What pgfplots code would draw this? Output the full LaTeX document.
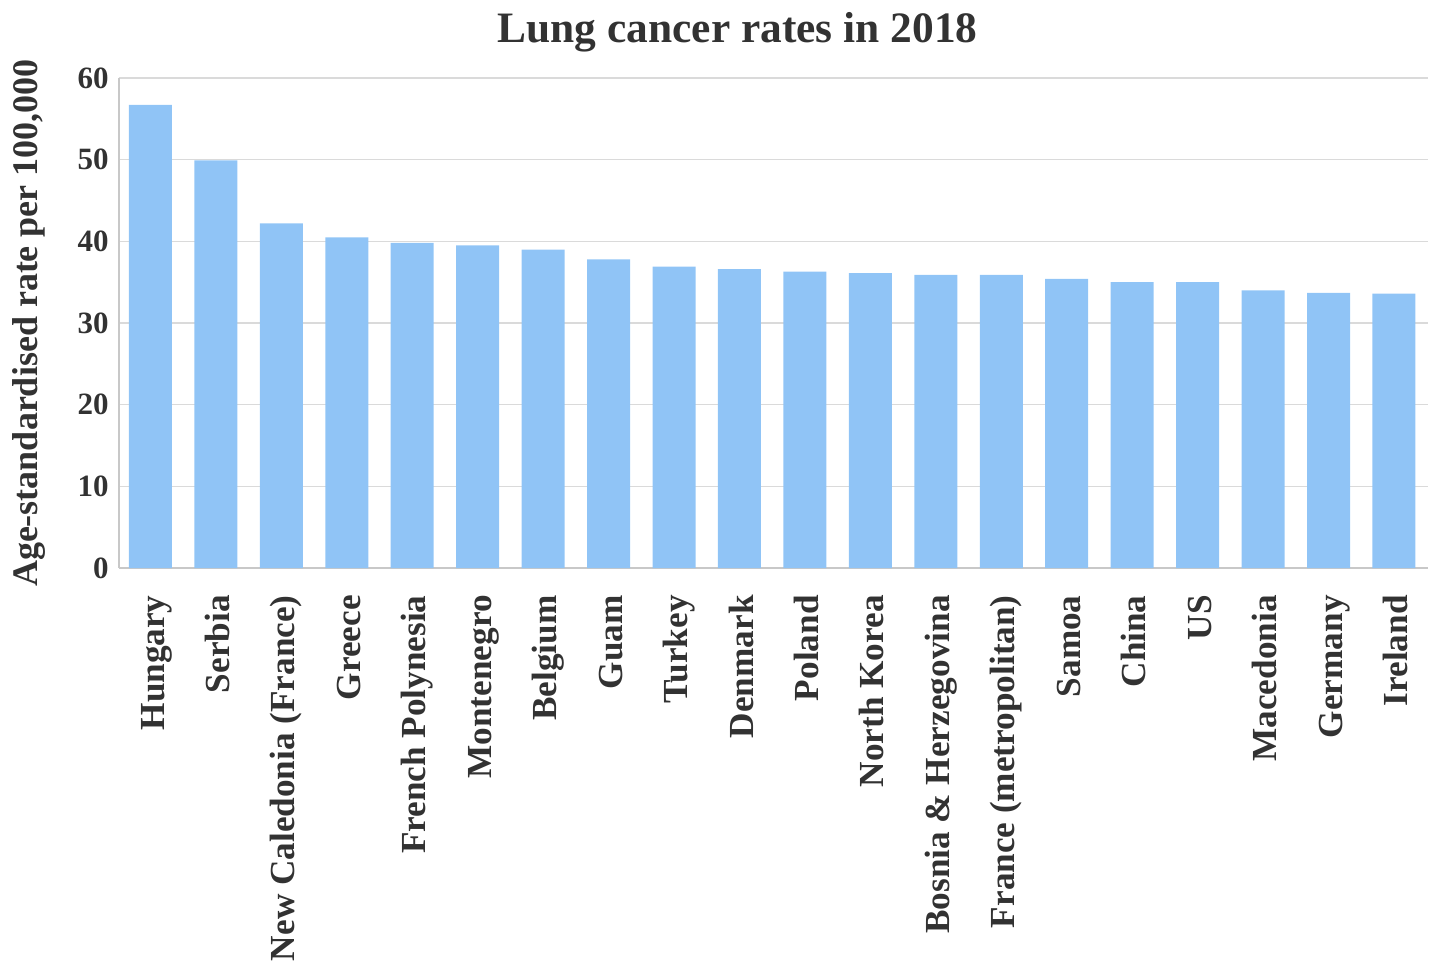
\documentclass[border=0pt]{standalone}
\usepackage{fontspec}
\setmainfont{Liberation Serif}
\usepackage{pgfplots}
\pgfplotsset{compat=1.18}
\definecolor{barblue}{RGB}{144,196,246}
\definecolor{gridgray}{RGB}{218,218,218}
\definecolor{axgray}{RGB}{200,200,200}
\definecolor{txt}{RGB}{50,50,50}
\begin{document}
\begin{tikzpicture}
\useasboundingbox (-59.5pt,-203pt) rectangle (661pt,284pt);
\begin{axis}[
  at={(0,0)}, anchor=south west,
  scale only axis,
  width=654.5pt, height=245pt,
  ymin=0, ymax=60, ytick={0,10,...,60},
  xmin=-0.48, xmax=19.52,
  xtick={0,...,19},
  xticklabels={Hungary,Serbia,New Caledonia (France),Greece,French Polynesia,Montenegro,Belgium,Guam,Turkey,Denmark,Poland,North Korea,Bosnia \& Herzegovina,France (metropolitan),Samoa,China,US,Macedonia,Germany,Ireland},
  axis x line*=bottom, axis y line*=left,
  axis line style={axgray, line width=0.8pt, -},
  major tick length=0pt,
  ymajorgrids, grid style={gridgray, line width=0.75pt},
  /pgf/number format/assume math mode=true,
  yticklabel style={font=\fontsize{15.5}{18}\selectfont\bfseries, text=txt, anchor=east, inner sep=0pt, xshift=-5pt},
  xticklabel style={xshift=4.5pt, font=\fontsize{17.6}{20}\selectfont\bfseries, text=txt, rotate=90, anchor=mid east, inner ysep=0pt, inner xsep=13.5pt},
  title={Lung cancer rates in 2018},
  title style={font=\fontsize{21.7}{26}\selectfont\bfseries, text=txt, at={(0.4725,1)}, anchor=base, yshift=12pt},
  ylabel={Age-standardised rate per 100,000},
  ylabel style={font=\fontsize{18}{21}\selectfont\bfseries, text=txt, at={(axis description cs:-0.069,0.5)}, anchor=center, rotate=0},
  ybar, bar width=21.5pt,
]
\addplot[fill=barblue, draw=none] coordinates {
(0,56.7) (1,49.9) (2,42.2) (3,40.5) (4,39.8) (5,39.5) (6,39.0) (7,37.8) (8,36.9) (9,36.6)
(10,36.3) (11,36.1) (12,35.9) (13,35.9) (14,35.4) (15,35.0) (16,35.0) (17,34.0) (18,33.7) (19,33.6)
};
\end{axis}
\end{tikzpicture}
\end{document}
